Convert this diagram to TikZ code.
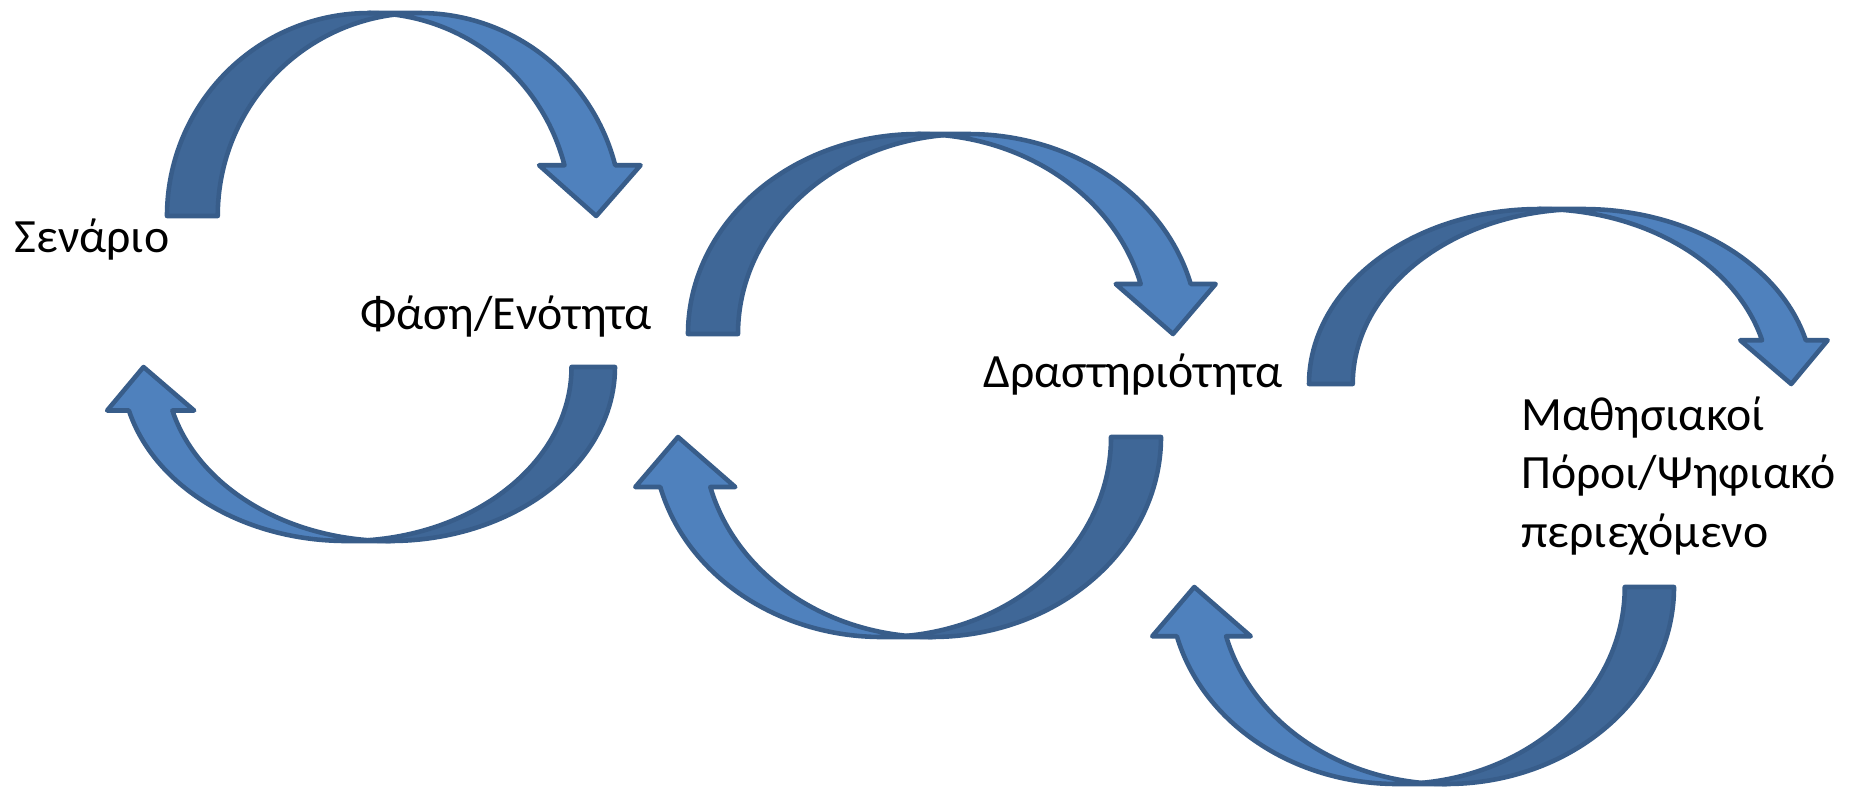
\documentclass[tikz,border=0pt]{standalone}
\usepackage{fontspec}
\setmainfont{Carlito}
\usetikzlibrary{positioning}
\definecolor{cFill}{HTML}{4F81BD}
\definecolor{cBack}{HTML}{3F6797}
\definecolor{cLine}{HTML}{385D8A}
\tikzset{
  band/.style={draw=cLine,fill=cFill,line width=2.6pt,line join=round},
  rear/.style={draw=cLine,fill=cBack,line width=2.6pt,line join=round},
  lbl/.style={inner sep=0pt,anchor=base west,align=left,font=\fontsize{27.2}{33.2}\selectfont}
}
% curved arrow: corner x, corner y, width, height, rotation
\newcommand{\bentarrow}[5]{%
  \pgfmathsetmacro{\aTh}{#4/4}%
  \pgfmathsetmacro{\aR}{#3/2-3*#4/16}%
  \pgfmathsetmacro{\aXa}{\aR+\aR*cos(14.4775)}%
  \pgfmathsetmacro{\aPh}{acos(\aTh/(2*\aR))}%
  \begin{scope}[shift={(#1,-#2)},rotate=#5]
    \filldraw[rear] (0,0) arc[start angle=180,end angle=\aPh,x radius=\aR,y radius=#4]
      arc[start angle=180-\aPh,end angle=180,x radius=\aR,y radius=#4] -- cycle;
    \filldraw[band] (#3-#4/4,0) -- (\aXa-#4/8,#4/4) -- (\aXa,#4/4)
      arc[start angle=14.4775,end angle=90,x radius=\aR,y radius=#4]
      -- (\aR+\aTh,#4)
      arc[start angle=90,end angle=14.4775,x radius=\aR,y radius=#4]
      -- (\aXa+\aTh+#4/8,#4/4) -- cycle;
  \end{scope}}
\begin{document}
\begin{tikzpicture}[x=0.02cm,y=0.02cm]
    \useasboundingbox (0,0) rectangle (1849,-789);
    % Arrows
    \bentarrow{167}{216}{480}{203}{0}
    \bentarrow{615}{367}{515}{174}{180}
    \bentarrow{688}{334}{535}{200}{0}
    \bentarrow{1161}{437}{533}{200}{180}
    \bentarrow{1309}{384}{526}{175}{0}
    \bentarrow{1674}{587}{529}{197}{180}

    % Nodes
    \node[lbl] (scen) at (14,-252) {Σενάριο};
    \node[lbl] (phase) at (360,-329) {Φάση/Ενότητα};
    \node[lbl] (act) at (983,-387) {Δραστηριότητα};
    \node[lbl] (res) at (1521,-547) {Μαθησιακοί\\Πόροι/Ψηφιακό\\περιεχόμενο};
\end{tikzpicture}
\end{document}
